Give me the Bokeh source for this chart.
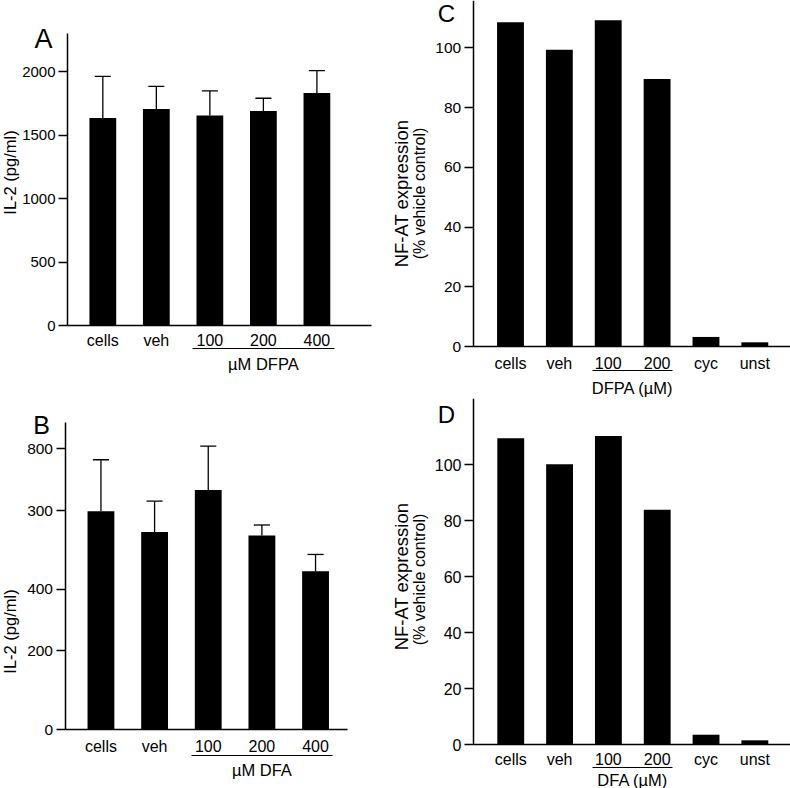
import math
from bokeh.plotting import figure
from bokeh.layouts import row, column
from bokeh.models import Range1d, FixedTicker, LinearAxis
from bokeh.core.properties import value
from bokeh.embed import file_html
from bokeh.resources import INLINE

FONT = "Liberation Sans"

# ---------------- data ----------------
il2_cats = ["cells", "veh", "100", "200", "400"]
dfpa_il2 = [1635, 1706, 1654, 1690, 1832]
dfpa_il2_upper = [1963, 1884, 1848, 1790, 2008]
il2a_ticks = [0, 500, 1000, 1500, 2000]
il2a_tick_labels = ["0", "500", "1000", "1500", "2000"]

dfa_il2 = [622, 563, 683, 553, 451]
dfa_il2_upper = [769, 651, 808, 583, 499]
il2b_ticks = [0, 225, 400, 624, 800]
il2b_tick_labels = ["0", "200", "400", "300", "800"]

nfat_cats = ["cells", "veh", "100", "200", "cyc", "unst"]
nfat_dfpa = [108.6, 99.4, 109.3, 89.6, 3.2, 1.4]
nfat_dfa = [109.4, 100.1, 110.2, 83.9, 3.5, 1.5]
nfat_ticks = [0, 20, 40, 60, 80, 100]
nfat_tick_labels = ["0", "20", "40", "60", "80", "100"]


def build(fig, plot, xlo, xhi, ytop, cats, vals, bar_w, yticks, ylabels, ysize,
          xstand, group, glabel, gstand, underline, texts, upper=None):
    fx, fy, W, H = fig
    pl, pr, pt, pb = plot
    sx = (pr - pl) / (xhi - xlo)
    sy = (pb - pt) / ytop
    xr = Range1d(xlo - (pl - fx) / sx, xlo + (fx + W - pl) / sx)
    yr = Range1d(-(fy + H - pb) / sy, (pb - fy) / sy)

    def X(ax):
        return xlo + (ax - pl) / sx

    def Y(ay):
        return (pb - ay) / sy

    p = figure(width=W, height=H, x_range=xr, y_range=yr, output_backend="svg",
               toolbar_location=None, min_border=0, min_border_left=0,
               min_border_right=0, min_border_top=0, min_border_bottom=0,
               x_axis_type=None, y_axis_type=None)
    p.outline_line_color = None
    p.background_fill_color = "white"
    p.border_fill_color = "white"

    idx = list(range(len(cats)))
    p.vbar(x=idx, top=vals, width=bar_w, fill_color="black", line_color=None)
    if upper is not None:
        p.segment(x0=idx, y0=vals, x1=idx, y1=upper, line_color="black", line_width=1.3)
        p.segment(x0=[i - 0.15 for i in idx], y0=upper, x1=[i + 0.15 for i in idx],
                  y1=upper, line_color="black", line_width=1.3)

    yaxis = LinearAxis(ticker=FixedTicker(ticks=yticks, minor_ticks=[]),
                       major_label_overrides={t: l for t, l in zip(yticks, ylabels)},
                       fixed_location=xlo, bounds=(0, ytop))
    yaxis.axis_line_color = "black"
    yaxis.axis_line_width = 1.5
    yaxis.major_tick_line_color = "black"
    yaxis.major_tick_line_width = 1.3
    yaxis.major_tick_out = 9
    yaxis.major_tick_in = 0
    yaxis.minor_tick_line_color = None
    yaxis.major_label_standoff = 3
    yaxis.major_label_text_font = FONT
    yaxis.major_label_text_font_size = ysize
    yaxis.major_label_text_color = "black"
    p.add_layout(yaxis, "left")

    xaxis = LinearAxis(ticker=FixedTicker(ticks=idx, minor_ticks=[]),
                       major_label_overrides={i: c for i, c in zip(idx, cats)},
                       fixed_location=0, bounds=(xlo, xhi))
    xaxis.axis_line_color = "black"
    xaxis.axis_line_width = 1.5
    xaxis.major_tick_line_color = None
    xaxis.major_tick_out = 0
    xaxis.major_tick_in = 0
    xaxis.minor_tick_line_color = None
    xaxis.major_label_standoff = xstand
    xaxis.major_label_text_font = FONT
    xaxis.major_label_text_font_size = "16px"
    xaxis.major_label_text_color = "black"
    p.add_layout(xaxis, "below")

    g0, g1 = group
    center = (g0 + g1) / 2
    gaxis = LinearAxis(bounds=(g0 - 0.32, g1 + 0.32),
                       ticker=FixedTicker(ticks=[center], minor_ticks=[]),
                       major_label_overrides={center: glabel},
                       fixed_location=Y(underline))
    gaxis.axis_line_color = "black"
    gaxis.axis_line_width = 1.2
    gaxis.major_tick_line_color = None
    gaxis.major_tick_out = 0
    gaxis.major_tick_in = 0
    gaxis.minor_tick_line_color = None
    gaxis.major_label_standoff = gstand
    gaxis.major_label_text_font = FONT
    gaxis.major_label_text_font_size = "16.5px"
    gaxis.major_label_text_color = "black"
    p.add_layout(gaxis, "below")

    for (t, ax, ay, size, ang) in texts:
        p.text(x=[X(ax)], y=[Y(ay)], text=[t], angle=ang, text_font=value(FONT),
               text_font_size=value(size), text_align="center",
               text_baseline="middle", text_color="black")
    return p


V = math.pi / 2

pA = build((0, 0, 391, 380), (67, 371, 33, 325), -0.66, 5.02, 2300,
           il2_cats, dfpa_il2, 0.5, il2a_ticks, il2a_tick_labels, "15px",
           6, (2, 4), "\u00b5M DFPA", 6, 348,
           [("A", 43, 38, "27px", 0), ("IL-2 (pg/ml)", 9.5, 172, "16.5px", V)],
           upper=dfpa_il2_upper)

pB = build((0, 380, 391, 408), (64.5, 346.7, 421.7, 729), -0.67, 4.59, 876,
           il2_cats, dfa_il2, 0.5, il2b_ticks, il2b_tick_labels, "15.5px",
           8, (2, 4), "\u00b5M DFA", 5, 755,
           [("B", 41, 424, "25px", 0), ("IL-2 (pg/ml)", 9.5, 631, "16.5px", V)],
           upper=dfa_il2_upper)

pC = build((391, 0, 399, 398), (472.7, 790, 0, 346), -0.763, 5.73, 115.9,
           nfat_cats, nfat_dfpa, 0.55, nfat_ticks, nfat_tick_labels, "15.5px",
           8, (2, 3), "DFPA (\u00b5M)", 8, 370,
           [("C", 446, 13, "24px", 0), ("NF-AT expression", 401, 193, "18.5px", V),
            ("(% vehicle control)", 419, 193, "16px", V)])

pD = build((391, 398, 399, 390), (473, 790, 398.3, 744), -0.763, 5.73, 123.5,
           nfat_cats, nfat_dfa, 0.55, nfat_ticks, nfat_tick_labels, "16px",
           6, (2, 3), "DFA (\u00b5M)", 4, 766.7,
           [("D", 446, 414, "24px", 0), ("NF-AT expression", 401, 576, "18.5px", V),
            ("(% vehicle control)", 419, 579, "16px", V)])

layout = row(column(pA, pB), column(pC, pD))
open("out.html", "w").write(file_html(layout, INLINE))
